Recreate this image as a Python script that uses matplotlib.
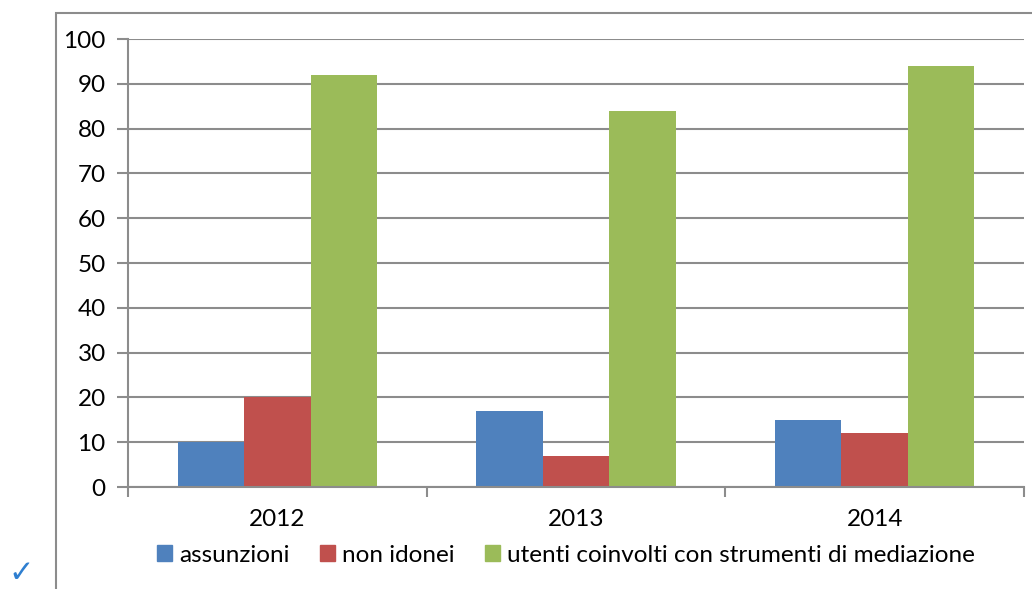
import matplotlib
matplotlib.use("Agg")
import matplotlib.pyplot as plt
import numpy as np
from matplotlib.patches import Rectangle, Patch

years = ["2012", "2013", "2014"]
series = ["assunzioni", "non idonei", "utenti coinvolti con strumenti di mediazione"]
assunzioni = [10, 17, 15]
non_idonei = [20, 7, 12]
utenti = [92, 84, 94]
colors = ["#4f81bd", "#c0504d", "#9bbb59"]

plt.rcParams['font.family'] = ['Lato', 'DejaVu Sans']

fig = plt.figure(figsize=(10.32, 5.89), dpi=100)
ax = fig.add_axes([128/1032, 1 - 487/589, (1024 - 128)/1032, (487 - 39)/589])

# outer chart frame, clipped by image edges
fig.patches.append(Rectangle((56/1032, -0.1), 2, 1 - 13/589 + 0.1,
                             transform=fig.transFigure, fill=False,
                             edgecolor="#8c8c8c", lw=1.5, zorder=0))

x = np.arange(len(years))
w = 1 / 4.5
for i, (vals, c) in enumerate(zip([assunzioni, non_idonei, utenti], colors)):
  ax.bar(x + (i - 1) * w, vals, width=w, color=c, zorder=3)

ax.set_xlim(-0.5, 2.5)
ax.set_ylim(0, 100)
ax.set_yticks(range(0, 101, 10))
ax.grid(axis='y', color="#8c8c8c", lw=1.5, zorder=0)

ax.set_xticks(x)
ax.set_xticklabels(years)
ax.set_xticks([-0.5, 0.5, 1.5, 2.5], minor=True)
ax.tick_params(axis='x', which='major', length=0, pad=16, labelsize=17.5)
ax.tick_params(axis='x', which='minor', length=7, color="#8c8c8c", width=1.5)
ax.tick_params(axis='y', length=8, color="#8c8c8c", width=1.5, pad=8, labelsize=17.5)

for k, v in ax.spines.items():
  v.set_visible(False)
ax.spines['left'].set_visible(True)
ax.spines['bottom'].set_visible(True)
ax.spines['left'].set_color("#8c8c8c")
ax.spines['bottom'].set_color("#8c8c8c")
ax.spines['left'].set_linewidth(1.5)
ax.spines['bottom'].set_linewidth(1.5)
ax.spines['bottom'].set_zorder(4)

handles = [Patch(color=c, label=s) for c, s in zip(colors, series)]
fig.legend(handles=handles, loc='center', bbox_to_anchor=(566/1032, 1 - 555/589),
           ncol=3, frameon=False, fontsize=17.5, handlelength=0.6, handleheight=0.6,
           handletextpad=0.3, columnspacing=1.25)

fig.text(8/1032, 1/589, "\u2713", color="#2f7fd0", fontsize=22,
         family="DejaVu Sans", va='bottom')

plt.savefig("out.png", dpi=100)
